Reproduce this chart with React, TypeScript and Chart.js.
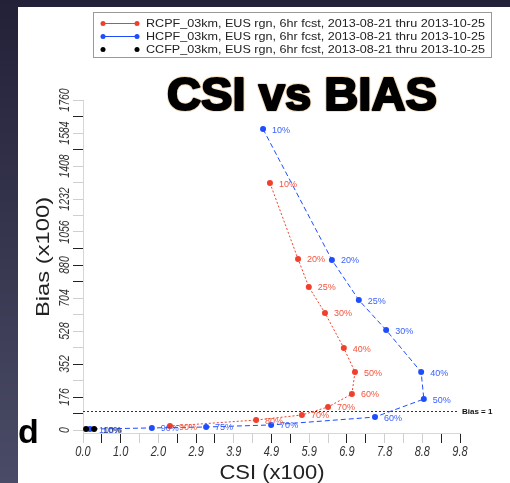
import { useEffect, useRef } from "react";
import { Chart, registerables } from "chart.js";

Chart.register(...registerables);

// ---- data ----
const legendLabels = [
  "RCPF_03km, EUS rgn, 6hr fcst, 2013-08-21 thru 2013-10-25",
  "HCPF_03km, EUS rgn, 6hr fcst, 2013-08-21 thru 2013-10-25",
  "CCFP_03km, EUS rgn, 6hr fcst, 2013-08-21 thru 2013-10-25",
];

const redCSI = [4.86, 5.59, 5.87, 6.29, 6.78, 7.07, 6.99, 6.37, 5.69, 4.5, 2.26];
const redBias = [1317, 912, 763, 624, 437, 309, 192, 123, 80, 53, 21];
const redPct = ["10%", "20%", "25%", "30%", "40%", "50%", "60%", "70%", "70%", "80%", "90%"];

const blueCSI = [4.68, 6.47, 7.17, 7.88, 8.79, 8.86, 7.59, 4.89, 3.2, 1.79, 0.18];
const blueBias = [1605, 907, 693, 533, 309, 165, 69, 27, 16, 11, 5];
const bluePct = ["10%", "20%", "25%", "30%", "40%", "50%", "60%", "70%", "75%", "90%", "100%"];

const blackCSI = [0.08, 0.29];
const blackBias = [5, 5];
const blackPct = ["", "10%"];

const xTicks = [0, 0.49, 0.98, 1.47, 1.96, 2.45, 2.94, 3.43, 3.92, 4.41, 4.9, 5.39, 5.88, 6.37, 6.86, 7.35, 7.84, 8.33, 8.82, 9.31, 9.8];
const xTickLabels = ["0.0", "", "1.0", "", "2.0", "", "2.9", "", "3.9", "", "4.9", "", "5.9", "", "6.9", "", "7.8", "", "8.8", "", "9.8"];
const xDarkTickIdx = [1, 2, 5, 6, 7, 10, 11, 14, 15, 19, 20];

const yTicks = [0, 88, 176, 264, 352, 440, 528, 616, 704, 792, 880, 968, 1056, 1144, 1232, 1320, 1408, 1496, 1584, 1672, 1760];
const yTickLabels = ["0", "", "176", "", "352", "", "528", "", "704", "", "880", "", "1056", "", "1232", "", "1408", "", "1584", "", "1760"];
const yDarkTickIdx = [1, 2, 4, 9, 10, 11, 17, 19];

const biasOne = 100;

const RED = "#f0402c";
const BLUE = "#1e4cff";
const RED_TXT = "#f2553f";
const BLUE_TXT = "#3a62ff";
const FONT = "'Liberation Sans', Arial, Helvetica, sans-serif";

const series = [
  { csi: blackCSI, bias: blackBias, pct: blackPct, color: "#000", txt: "#111" },
  { csi: blueCSI, bias: blueBias, pct: bluePct, color: BLUE, txt: BLUE_TXT },
  { csi: redCSI, bias: redBias, pct: redPct, color: RED, txt: RED_TXT },
];

function fitText(ctx: CanvasRenderingContext2D, text: string, x: number, y: number, width: number) {
  const w = ctx.measureText(text).width;
  ctx.save();
  ctx.translate(x, y);
  ctx.scale(width / w, 1);
  ctx.fillText(text, 0, 0);
  ctx.restore();
}

const decorPlugin = {
  id: "decor",
  beforeDraw(chart: any) {
    const { ctx, width, height } = chart;
    ctx.save();
    const g = ctx.createLinearGradient(0, 0, 0, height);
    g.addColorStop(0, "#232138");
    g.addColorStop(1, "#4a4b66");
    ctx.fillStyle = g;
    ctx.fillRect(0, 0, width, height);
    ctx.fillStyle = "#ffffff";
    ctx.fillRect(18, 7, width - 18, height - 7);
    ctx.restore();
  },
  beforeDatasetsDraw(chart: any) {
    const { ctx, chartArea, scales } = chart;
    const y = Math.round(scales.y.getPixelForValue(biasOne)) + 0.5;
    ctx.save();
    ctx.strokeStyle = "#333";
    ctx.lineWidth = 1;
    ctx.setLineDash([2, 2]);
    ctx.beginPath();
    ctx.moveTo(chartArea.left, y);
    ctx.lineTo(chartArea.right - 2, y);
    ctx.stroke();
    ctx.setLineDash([]);
    ctx.fillStyle = "#111";
    ctx.font = `bold 8px ${FONT}`;
    ctx.textBaseline = "middle";
    ctx.textAlign = "left";
    ctx.fillText("Bias = 1", chartArea.right + 2, y);
    ctx.restore();
  },
  afterDatasetsDraw(chart: any) {
    const { ctx } = chart;
    ctx.save();
    ctx.font = `9px ${FONT}`;
    ctx.textBaseline = "middle";
    ctx.textAlign = "left";
    series.forEach((s, di) => {
      const meta = chart.getDatasetMeta(di);
      ctx.fillStyle = s.txt;
      meta.data.forEach((el: any, i: number) => {
        const t = s.pct[i];
        if (t) ctx.fillText(t, el.x + 9, el.y + 1);
      });
    });
    ctx.restore();
  },
  afterDraw(chart: any) {
    const { ctx, scales } = chart;
    ctx.save();
    // x tick labels
    ctx.fillStyle = "#333";
    ctx.font = `italic 11px ${FONT}`;
    ctx.textAlign = "center";
    ctx.textBaseline = "middle";
    xTicks.forEach((v, i) => {
      const t = xTickLabels[i];
      if (!t) return;
      const px = scales.x.getPixelForValue(v);
      ctx.save();
      ctx.translate(px, 452);
      ctx.scale(1, 1.4);
      ctx.fillText(t, 0, 0);
      ctx.restore();
    });
    // y tick labels (rotated)
    ctx.font = `italic 10.5px ${FONT}`;
    yTicks.forEach((v, i) => {
      const t = yTickLabels[i];
      if (!t) return;
      const py = scales.y.getPixelForValue(v);
      ctx.save();
      ctx.translate(65, py);
      ctx.rotate(-Math.PI / 2);
      ctx.scale(1, 1.35);
      ctx.fillText(t, 0, 0);
      ctx.restore();
    });
    // axis titles
    ctx.fillStyle = "#222";
    ctx.font = `20px ${FONT}`;
    ctx.textBaseline = "alphabetic";
    ctx.save();
    ctx.translate(272, 479);
    ctx.scale(1.1, 1);
    ctx.fillText("CSI (x100)", 0, 0);
    ctx.restore();
    ctx.save();
    ctx.translate(49, 257);
    ctx.rotate(-Math.PI / 2);
    ctx.scale(1.25, 1);
    ctx.font = `19px ${FONT}`;
    ctx.fillText("Bias (x100)", 0, 0);
    ctx.restore();

    // main title
    ctx.font = `bold 46px ${FONT}`;
    ctx.textAlign = "left";
    const title = "CSI vs BIAS";
    const tw = ctx.measureText(title).width;
    ctx.save();
    ctx.translate(167, 110);
    ctx.scale(270 / tw, 1);
    ctx.lineJoin = "round";
    ctx.lineWidth = 4;
    ctx.strokeStyle = "rgba(230,160,70,0.35)";
    ctx.strokeText(title, 0, 0);
    ctx.lineWidth = 2.2;
    ctx.strokeStyle = "#000";
    ctx.strokeText(title, 0, 0);
    ctx.fillStyle = "#000";
    ctx.fillText(title, 0, 0);
    ctx.restore();

    // panel letter
    ctx.fillStyle = "#000";
    ctx.font = `bold 34px ${FONT}`;
    ctx.fillText("d", 18, 443);

    // legend
    ctx.strokeStyle = "#999";
    ctx.lineWidth = 1;
    ctx.strokeRect(93.5, 12.5, 398, 45);
    const rows = [23, 36, 49];
    const colors = [RED, BLUE, "#000"];
    rows.forEach((ry, i) => {
      ctx.strokeStyle = colors[i];
      ctx.fillStyle = colors[i];
      if (i < 2) {
        ctx.beginPath();
        ctx.moveTo(103, ry + 0.5);
        ctx.lineTo(137, ry + 0.5);
        ctx.stroke();
      }
      [103, 137].forEach((cx) => {
        ctx.beginPath();
        ctx.arc(cx, ry + 0.5, 2.5, 0, Math.PI * 2);
        ctx.fill();
      });
      ctx.fillStyle = "#222";
      ctx.font = `11px ${FONT}`;
      ctx.textBaseline = "middle";
      fitText(ctx, legendLabels[i], 146, ry + 1, 339);
    });
    ctx.restore();
  },
};

export default function App() {
  const ref = useRef<HTMLCanvasElement>(null);
  useEffect(() => {
    document.body.style.margin = "0";
    const canvas = ref.current!;
    const mk = (s: (typeof series)[number], dash: number[], line: boolean) => ({
      data: s.csi.map((x, i) => ({ x, y: s.bias[i] })),
      showLine: line,
      borderColor: s.color,
      backgroundColor: s.color,
      borderWidth: 1,
      borderDash: dash,
      pointRadius: 3,
      pointHoverRadius: 3,
      pointBorderWidth: 0,
    });
    const chart = new Chart(canvas, {
      type: "scatter",
      data: {
        datasets: [
          mk(series[0], [], false),
          mk(series[1], [5, 3], true),
          mk(series[2], [2, 2], true),
        ] as any,
      },
      plugins: [decorPlugin],
      options: {
        animation: false,
        responsive: false,
        events: [],
        layout: { padding: { left: 0, top: 100, right: 50, bottom: 0 } },
        plugins: { legend: { display: false }, tooltip: { enabled: false }, title: { display: false } },
        scales: {
          x: {
            type: "linear",
            min: 0,
            max: 9.8,
            afterBuildTicks: (scale: any) => {
              scale.ticks = xTicks.map((v) => ({ value: v }));
            },
            afterFit: (scale: any) => {
              scale.height = 50;
            },
            ticks: { display: false },
            grid: {
              drawOnChartArea: false,
              drawTicks: true,
              tickLength: 10,
              color: (c: any) => (xDarkTickIdx.includes(c.index) ? "#222" : "#cfcfcf"),
            },
            border: { display: true, color: "#d6d6d6" },
          },
          y: {
            type: "linear",
            min: -16,
            max: 1760,
            afterBuildTicks: (scale: any) => {
              scale.ticks = yTicks.map((v) => ({ value: v }));
            },
            afterFit: (scale: any) => {
              scale.width = 83;
            },
            ticks: { display: false },
            grid: {
              drawOnChartArea: false,
              drawTicks: true,
              tickLength: 10,
              color: (c: any) => (yDarkTickIdx.includes(c.index) ? "#222" : "#cfcfcf"),
            },
            border: { display: true, color: "#d6d6d6" },
          },
        },
      } as any,
    });
    return () => chart.destroy();
  }, []);
  return (
    <div style={{ width: 510, height: 483 }}>
      <canvas ref={ref} width={510} height={483} style={{ display: "block", width: 510, height: 483 }} />
    </div>
  );
}
